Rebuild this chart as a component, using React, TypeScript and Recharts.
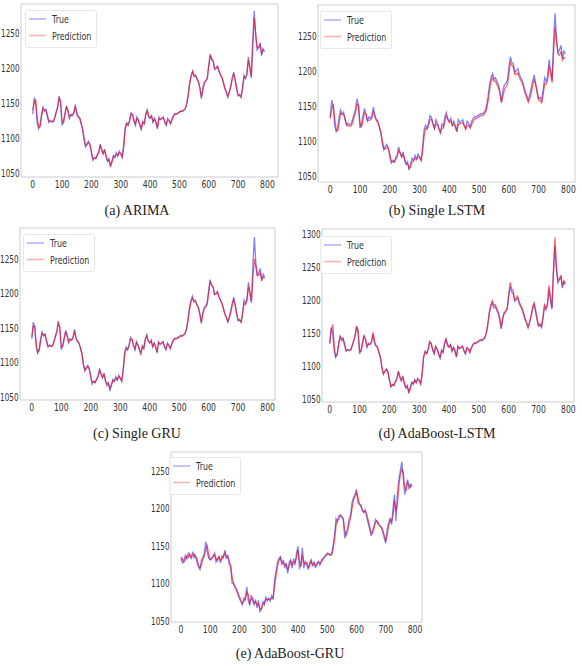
import React from 'react';
import { LineChart, Line, XAxis, YAxis, ReferenceArea, Legend } from 'recharts';

const STEP = 5;
const X_TICKS = [0, 100, 200, 300, 400, 500, 600, 700, 800];
const Y_TICKS = [1050, 1100, 1150, 1200, 1250];
const Y_TICKS_D = [1050, 1100, 1150, 1200, 1250, 1300];

// shared ground truth for panels (a)-(d)
const TRUE_AD = [
  1134, 1158, 1150, 1122, 1113, 1118, 1134, 1144, 1138, 1141, 1130, 1122, 1125, 1123, 1124, 1130, 1138, 1145, 1160, 1150,
  1118, 1124, 1136, 1146, 1138, 1128, 1134, 1132, 1136, 1148, 1134, 1130, 1128, 1120, 1112, 1096, 1087, 1092, 1095, 1090,
  1078, 1068, 1072, 1070, 1076, 1080, 1091, 1082, 1077, 1084, 1072, 1066, 1070, 1058, 1067, 1075, 1072, 1079, 1074, 1081,
  1077, 1072, 1090, 1115, 1122, 1118, 1125, 1136, 1133, 1124, 1118, 1130, 1125, 1118, 1112, 1124, 1120, 1134, 1140, 1130,
  1128, 1132, 1122, 1128, 1122, 1113, 1130, 1126, 1128, 1130, 1122, 1118, 1128, 1125, 1120, 1128, 1132, 1135, 1134, 1136,
  1137, 1139, 1138, 1140, 1142, 1150, 1163, 1180, 1190, 1196, 1188, 1190, 1184, 1180, 1170, 1156, 1172, 1180, 1182, 1186,
  1205, 1220, 1212, 1210, 1198, 1200, 1203, 1195, 1190, 1186, 1178, 1170, 1165, 1158, 1166, 1175, 1186, 1194, 1182, 1170,
  1160, 1162, 1158, 1172, 1190, 1185, 1192, 1216, 1200, 1186, 1240, 1282, 1245, 1226, 1230, 1236, 1218, 1228, 1224,
];

const PRED_ARIMA = [
  1140, 1150, 1155, 1130, 1116, 1116, 1130, 1142, 1140, 1140, 1133, 1124, 1124, 1124, 1123, 1128, 1136, 1143, 1157, 1153,
  1124, 1122, 1133, 1144, 1140, 1130, 1132, 1133, 1135, 1145, 1137, 1131, 1129, 1122, 1114, 1100, 1089, 1090, 1094, 1091,
  1081, 1070, 1071, 1071, 1075, 1079, 1089, 1084, 1078, 1082, 1075, 1068, 1069, 1061, 1065, 1073, 1073, 1077, 1075, 1079,
  1078, 1073, 1086, 1110, 1120, 1119, 1124, 1134, 1134, 1126, 1120, 1128, 1126, 1120, 1114, 1122, 1121, 1132, 1139, 1132,
  1129, 1131, 1124, 1127, 1123, 1115, 1127, 1127, 1128, 1129, 1124, 1119, 1126, 1125, 1121, 1126, 1131, 1134, 1134, 1135,
  1137, 1138, 1138, 1140, 1142, 1148, 1160, 1177, 1188, 1195, 1190, 1189, 1185, 1181, 1172, 1159, 1169, 1178, 1182, 1185,
  1202, 1218, 1214, 1210, 1200, 1200, 1202, 1196, 1191, 1187, 1180, 1172, 1166, 1160, 1165, 1173, 1184, 1192, 1184, 1172,
  1162, 1161, 1159, 1170, 1187, 1186, 1191, 1212, 1202, 1189, 1232, 1272, 1250, 1230, 1229, 1234, 1221, 1226, 1225,
];

const PRED_LSTM = [
  1132, 1145, 1152, 1132, 1116, 1114, 1126, 1139, 1138, 1137, 1132, 1123, 1121, 1121, 1121, 1125, 1133, 1140, 1152, 1151,
  1126, 1119, 1129, 1140, 1138, 1129, 1129, 1130, 1132, 1142, 1137, 1129, 1126, 1120, 1112, 1100, 1089, 1088, 1091, 1089,
  1081, 1071, 1070, 1069, 1073, 1077, 1086, 1083, 1077, 1080, 1074, 1067, 1067, 1061, 1063, 1070, 1071, 1075, 1073, 1077,
  1076, 1072, 1083, 1105, 1117, 1116, 1121, 1130, 1131, 1124, 1117, 1124, 1123, 1117, 1111, 1118, 1118, 1128, 1136, 1131,
  1126, 1128, 1122, 1124, 1120, 1113, 1123, 1124, 1125, 1126, 1121, 1116, 1122, 1122, 1118, 1123, 1128, 1131, 1132, 1133,
  1134, 1136, 1136, 1137, 1139, 1145, 1156, 1172, 1184, 1190, 1185, 1185, 1180, 1176, 1167, 1154, 1164, 1173, 1177, 1180,
  1196, 1212, 1208, 1205, 1195, 1195, 1197, 1191, 1186, 1182, 1175, 1167, 1161, 1155, 1160, 1168, 1179, 1187, 1180, 1168,
  1158, 1157, 1154, 1165, 1182, 1181, 1186, 1207, 1198, 1183, 1225, 1262, 1242, 1224, 1222, 1228, 1215, 1219, 1218,
];

const PRED_GRU = [
  1136, 1152, 1153, 1127, 1114, 1117, 1131, 1142, 1139, 1140, 1131, 1123, 1124, 1123, 1123, 1129, 1137, 1144, 1156, 1151,
  1122, 1123, 1134, 1144, 1139, 1130, 1133, 1132, 1135, 1145, 1136, 1130, 1128, 1121, 1113, 1098, 1089, 1091, 1094, 1090,
  1080, 1071, 1072, 1071, 1075, 1079, 1088, 1083, 1078, 1082, 1074, 1068, 1069, 1062, 1066, 1073, 1072, 1077, 1074, 1079,
  1077, 1073, 1087, 1110, 1120, 1118, 1124, 1134, 1133, 1125, 1119, 1128, 1125, 1119, 1113, 1122, 1120, 1132, 1138, 1131,
  1128, 1131, 1123, 1127, 1122, 1115, 1128, 1126, 1127, 1129, 1123, 1119, 1126, 1124, 1120, 1126, 1131, 1134, 1134, 1135,
  1136, 1138, 1138, 1139, 1141, 1148, 1160, 1176, 1187, 1193, 1188, 1188, 1183, 1179, 1170, 1158, 1169, 1177, 1180, 1184,
  1201, 1216, 1212, 1209, 1199, 1199, 1201, 1195, 1190, 1185, 1178, 1170, 1165, 1159, 1164, 1172, 1183, 1191, 1183, 1171,
  1161, 1161, 1158, 1169, 1185, 1184, 1190, 1210, 1201, 1189, 1222, 1250, 1238, 1226, 1226, 1230, 1220, 1224, 1222,
];

const PRED_ADA_LSTM = [
  1134, 1155, 1163, 1130, 1114, 1118, 1133, 1145, 1141, 1142, 1133, 1123, 1124, 1124, 1124, 1130, 1138, 1146, 1159, 1155,
  1123, 1122, 1134, 1146, 1141, 1130, 1133, 1133, 1136, 1151, 1139, 1131, 1129, 1121, 1113, 1098, 1088, 1091, 1095, 1092,
  1080, 1069, 1071, 1070, 1076, 1080, 1092, 1085, 1078, 1083, 1075, 1067, 1069, 1060, 1065, 1074, 1073, 1078, 1075, 1080,
  1078, 1073, 1088, 1113, 1122, 1119, 1125, 1137, 1135, 1126, 1119, 1129, 1126, 1119, 1112, 1123, 1121, 1134, 1141, 1133,
  1129, 1132, 1123, 1128, 1123, 1114, 1129, 1127, 1128, 1130, 1124, 1119, 1127, 1126, 1121, 1127, 1132, 1135, 1135, 1136,
  1138, 1140, 1139, 1141, 1143, 1150, 1163, 1181, 1193, 1199, 1192, 1193, 1187, 1182, 1173, 1158, 1172, 1181, 1184, 1188,
  1208, 1227, 1217, 1214, 1201, 1203, 1206, 1198, 1192, 1188, 1180, 1172, 1166, 1159, 1166, 1176, 1188, 1197, 1186, 1172,
  1162, 1164, 1160, 1174, 1193, 1188, 1195, 1222, 1205, 1188, 1245, 1295, 1252, 1230, 1232, 1238, 1221, 1229, 1225,
];

// ground truth and prediction for panel (e)
const TRUE_E = [
  1135, 1127, 1130, 1137, 1132, 1140, 1136, 1133, 1142, 1134, 1137, 1127, 1121, 1118, 1131, 1134, 1140, 1155, 1142, 1133,
  1131, 1134, 1136, 1140, 1128, 1133, 1135, 1127, 1136, 1134, 1144, 1132, 1138, 1125, 1122, 1100, 1100, 1094, 1090, 1084,
  1079, 1075, 1071, 1080, 1078, 1095, 1078, 1070, 1084, 1077, 1071, 1078, 1067, 1077, 1062, 1066, 1075, 1071, 1082, 1076,
  1080, 1076, 1083, 1078, 1104, 1115, 1128, 1133, 1135, 1124, 1131, 1120, 1127, 1113, 1128, 1131, 1120, 1133, 1124, 1140,
  1149, 1120, 1124, 1147, 1120, 1129, 1126, 1118, 1127, 1131, 1122, 1129, 1120, 1127, 1129, 1124, 1130, 1133, 1135, 1138,
  1140, 1139, 1137, 1138, 1150, 1164, 1186, 1182, 1190, 1191, 1188, 1185, 1160, 1168, 1173, 1186, 1190, 1208, 1214, 1218,
  1225, 1208, 1205, 1203, 1196, 1194, 1198, 1188, 1180, 1172, 1163, 1170, 1176, 1185, 1182, 1178, 1176, 1174, 1168, 1160,
  1153, 1172, 1180, 1187, 1178, 1200, 1218, 1183, 1220, 1238, 1250, 1262, 1240, 1218, 1230, 1238, 1225, 1232, 1230,
];

const PRED_ADA_GRU = [
  1130, 1133, 1128, 1132, 1136, 1134, 1139, 1135, 1136, 1139, 1134, 1133, 1124, 1120, 1124, 1132, 1136, 1146, 1150, 1137,
  1132, 1132, 1135, 1138, 1133, 1130, 1135, 1130, 1132, 1136, 1140, 1136, 1135, 1130, 1123, 1108, 1098, 1096, 1092, 1087,
  1082, 1077, 1073, 1076, 1079, 1088, 1085, 1073, 1078, 1080, 1073, 1075, 1071, 1072, 1066, 1065, 1071, 1073, 1078, 1078,
  1078, 1078, 1080, 1080, 1095, 1110, 1122, 1130, 1134, 1128, 1128, 1124, 1124, 1118, 1122, 1129, 1124, 1128, 1128, 1134,
  1144, 1130, 1122, 1138, 1128, 1125, 1127, 1121, 1123, 1129, 1125, 1126, 1123, 1124, 1128, 1126, 1128, 1131, 1134, 1136,
  1138, 1139, 1138, 1138, 1145, 1157, 1176, 1184, 1186, 1190, 1189, 1186, 1170, 1164, 1170, 1180, 1187, 1200, 1211, 1216,
  1221, 1215, 1206, 1204, 1199, 1195, 1196, 1192, 1184, 1176, 1167, 1166, 1173, 1181, 1183, 1180, 1177, 1175, 1171, 1164,
  1157, 1164, 1176, 1184, 1182, 1191, 1210, 1196, 1205, 1230, 1245, 1252, 1248, 1228, 1224, 1234, 1230, 1228, 1231,
];

const SERIES_NAMES = ['True', 'Prediction'];
const SERIES_COLORS = ['#0000ff', '#ff0000'];

type PanelCfg = {
  box: [number, number, number, number];
  xDomain: [number, number];
  yDomain: [number, number];
  yTicks: number[];
  truth: number[];
  pred: number[];
  caption: string;
  cap: [number, number];
  leg: [number, number];
};

const PANELS: PanelCfg[] = [
  { box: [21, 4, 278, 177], xDomain: [-40, 836], yDomain: [1044, 1292], yTicks: Y_TICKS, truth: TRUE_AD, pred: PRED_ARIMA, caption: '(a) ARIMA', cap: [137, 211], leg: [29, 19] },
  { box: [318, 5, 575, 182], xDomain: [-41, 822], yDomain: [1041, 1294], yTicks: Y_TICKS, truth: TRUE_AD, pred: PRED_LSTM, caption: '(b) Single LSTM', cap: [437, 211], leg: [324, 20] },
  { box: [20, 228, 275, 400], xDomain: [-40, 825], yDomain: [1045, 1295], yTicks: Y_TICKS, truth: TRUE_AD, pred: PRED_GRU, caption: '(c) Single GRU', cap: [137, 434], leg: [27, 243] },
  { box: [322, 229, 574, 402], xDomain: [-26, 819], yDomain: [1045, 1308], yTicks: Y_TICKS_D, truth: TRUE_AD, pred: PRED_ADA_LSTM, caption: '(d) AdaBoost-LSTM', cap: [437, 434], leg: [324, 245] },
  { box: [171, 452, 422, 622], xDomain: [-34, 824], yDomain: [1048, 1275], yTicks: Y_TICKS, truth: TRUE_E, pred: PRED_ADA_GRU, caption: '(e) AdaBoost-GRU', cap: [290, 654], leg: [173, 466] },
];

const TICK_FONT = 'DejaVu Sans';
const SQUEEZE = 0.66;

function XTick(props: any) {
  const { x, y, payload } = props;
  return (
    <g transform={`translate(${x},${y + 11}) scale(0.7,1)`}>
      <text x={0} y={0} textAnchor="middle" fontFamily={TICK_FONT} fontSize={11} fill="#333">
        {payload.value}
      </text>
    </g>
  );
}

function YTick(props: any) {
  const { x, y, payload } = props;
  return (
    <g transform={`translate(${x - 1.5},${y + 4}) scale(${SQUEEZE},1)`}>
      <text x={0} y={0} textAnchor="end" fontFamily={TICK_FONT} fontSize={11} fill="#333">
        {payload.value}
      </text>
    </g>
  );
}

const LEG_W = 72;
const LEG_H = 38;

function renderLegend(props: any) {
  const payload = [...(props.payload || [])].sort(
    (p: any, q: any) => SERIES_NAMES.indexOf(p.value) - SERIES_NAMES.indexOf(q.value)
  );
  return (
    <svg width={LEG_W} height={LEG_H} style={{ display: 'block' }}>
      <rect x={0.5} y={0.5} width={LEG_W - 1} height={LEG_H - 1} rx={2} fill="#ffffff" fillOpacity={0.8} stroke="#e8e8e8" />
      {payload.map((entry: any, i: number) => {
        const ry = 9 + i * 16.5;
        return (
          <g key={i}>
            <line x1={4} x2={21} y1={ry} y2={ry} stroke={entry.color} strokeOpacity={0.3} strokeWidth={1.6} />
            <g transform={`translate(27,${ry + 4}) scale(0.72,1)`}>
              <text x={0} y={0} fontFamily={TICK_FONT} fontSize={11} fill="#333">
                {entry.value}
              </text>
            </g>
          </g>
        );
      })}
    </svg>
  );
}

function Panel({ cfg }: { cfg: PanelCfg }) {
  const [l, t, r, b] = cfg.box;
  const YW = 34;
  const MT = 4;
  const MR = 4;
  const XH = 24;
  const left = l - YW;
  const top = t - MT;
  const width = r - l + YW + MR;
  const height = b - t + MT + XH;
  const data = cfg.truth.map((v, i) => ({ t: i * STEP, truth: v, pred: cfg.pred[i] }));
  const legLeft = cfg.leg[0] - 4 - left;
  const legTop = cfg.leg[1] - 9 - top;
  return (
    <>
      <div style={{ position: 'absolute', left, top }}>
        <LineChart width={width} height={height} data={data} margin={{ top: MT, right: MR, left: 0, bottom: 0 }}>
          <XAxis
            type="number"
            dataKey="t"
            domain={cfg.xDomain}
            ticks={X_TICKS}
            allowDataOverflow
            tickLine={false}
            axisLine={false}
            tickSize={0}
            tickMargin={0}
            height={XH}
            interval={0}
            tick={XTick}
          />
          <YAxis
            type="number"
            domain={cfg.yDomain}
            ticks={cfg.yTicks}
            allowDataOverflow
            tickLine={false}
            axisLine={false}
            tickSize={0}
            tickMargin={0}
            width={YW}
            interval={0}
            tick={YTick}
          />
          <ReferenceArea
            x1={cfg.xDomain[0]}
            x2={cfg.xDomain[1]}
            y1={cfg.yDomain[0]}
            y2={cfg.yDomain[1]}
            fill="none"
            fillOpacity={0}
            stroke="#cccccc"
            strokeWidth={1}
          />
          <Line
            type="linear"
            dataKey="truth"
            name={SERIES_NAMES[0]}
            stroke={SERIES_COLORS[0]}
            strokeOpacity={0.5}
            strokeWidth={1.3}
            dot={false}
            activeDot={false}
            isAnimationActive={false}
          />
          <Line
            type="linear"
            dataKey="pred"
            name={SERIES_NAMES[1]}
            stroke={SERIES_COLORS[1]}
            strokeOpacity={0.6}
            strokeWidth={1.3}
            dot={false}
            activeDot={false}
            isAnimationActive={false}
          />
          <Legend
            layout="vertical"
            align="center"
            verticalAlign="middle"
            content={renderLegend}
            wrapperStyle={{ left: legLeft, top: legTop, width: LEG_W, height: LEG_H, right: 'auto', bottom: 'auto' }}
          />
        </LineChart>
      </div>
      <div
        style={{
          position: 'absolute',
          left: cfg.cap[0] - 130,
          top: cfg.cap[1] - 8,
          width: 260,
          textAlign: 'center',
          fontFamily: '"Liberation Serif", "Times New Roman", serif',
          fontSize: 14,
          lineHeight: '16px',
          color: '#222',
          whiteSpace: 'nowrap',
        }}
      >
        {cfg.caption}
      </div>
    </>
  );
}

export default function App() {
  return (
    <div style={{ position: 'absolute', left: 0, top: 0, width: 582, height: 666, background: '#ffffff', overflow: 'hidden' }}>
      {PANELS.map((cfg, i) => (
        <Panel key={i} cfg={cfg} />
      ))}
    </div>
  );
}
